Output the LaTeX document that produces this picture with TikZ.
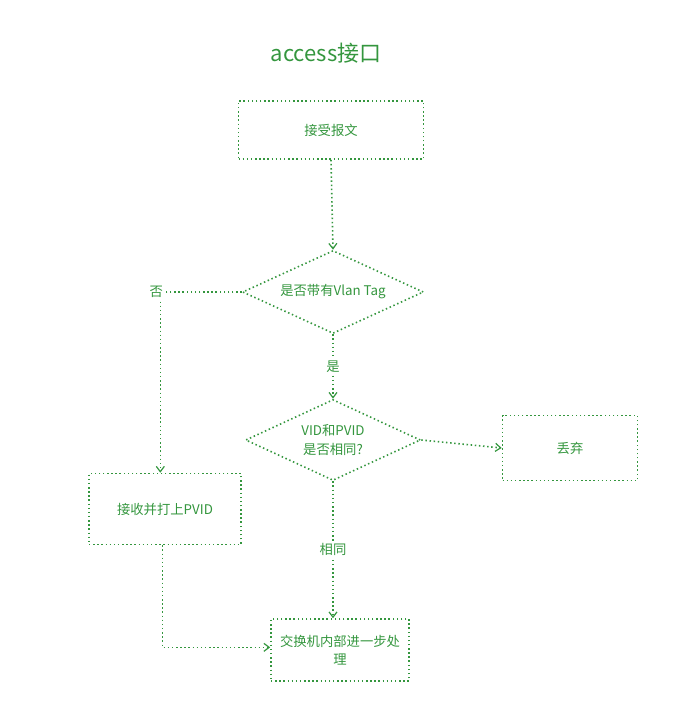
\documentclass[tikz,border=0pt]{standalone}
\usepackage{fontspec}
\setmainfont{Noto Sans CJK SC}
\usetikzlibrary{shapes.geometric,arrows.meta}
\definecolor{flowgreen}{RGB}{52,150,62}
\tikzset{
  sketch/.style={draw=flowgreen, line width=1.2pt, dash pattern=on 1.1pt off 2pt},
  stepbox/.style={sketch, rectangle, inner sep=0pt, text=flowgreen, font=\fontsize{10}{14}\selectfont, align=center},
  decision/.style={sketch, diamond, aspect=2.2, inner sep=0pt, text=flowgreen, font=\fontsize{10}{14}\selectfont, align=center},
  flow/.style={sketch, -{Straight Barb[open, length=4pt, width=6pt, line width=0.9pt]}},
  lbl/.style={fill=white, text=flowgreen, inner sep=1.5pt, font=\fontsize{10}{12}\selectfont}
}
\begin{document}
\begin{tikzpicture}[x=0.75pt, y=-0.75pt]
  \useasboundingbox (0,0) rectangle (689,711);

  \node[text=flowgreen, font=\fontsize{16.5}{20}\selectfont] (title) at (326,53) {access接口};

  \node[stepbox, minimum width=185*0.75pt, minimum height=58*0.75pt] (recv) at (331,130) {接受报文};
  \node[decision, minimum width=181*0.75pt, minimum height=83*0.75pt] (tag) at (333,292) {是否带有Vlan Tag};
  \node[decision, minimum width=175*0.75pt, minimum height=81*0.75pt] (vid) at (333,440) {VID和PVID\\是否相同?};
  \node[stepbox, minimum width=135*0.75pt, minimum height=65*0.75pt] (drop) at (570,448) {丢弃};
  \node[stepbox, minimum width=152*0.75pt, minimum height=71*0.75pt] (pvid) at (165,509) {接收并打上PVID};
  \node[stepbox, minimum width=138*0.75pt, minimum height=62*0.75pt] (proc) at (340,650) {交换机内部进一步处\\理};

  \draw[flow] (recv.south) -- (tag.north);
  \draw[flow] (tag.west) -| node[lbl, pos=0.5, xshift=-3pt] {否} ([xshift=-3.5pt]pvid.north);
  \draw[flow] (tag.south) -- node[lbl] {是} (vid.north);
  \draw[flow] (vid.east) -- (drop.west);
  \draw[flow] (vid.south) -- node[lbl] {相同} (vid.south |- proc.north);
  \draw[flow] ([xshift=-2pt]pvid.south) |- ([yshift=2pt]proc.west);
\end{tikzpicture}
\end{document}
